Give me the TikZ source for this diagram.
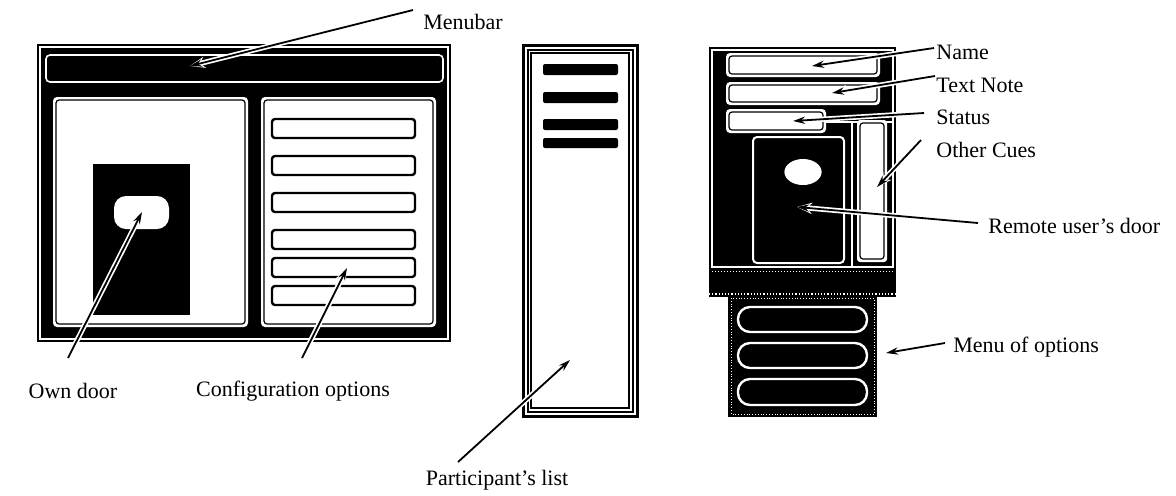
\documentclass[tikz,border=0pt]{standalone}
\usepackage{fontspec}
\setmainfont{Liberation Serif}
\usetikzlibrary{arrows.meta}
\begin{document}
\begin{tikzpicture}[x=0.5pt,y=-0.5pt,
  lbl/.style={font=\fontsize{11}{13}\selectfont, inner sep=0pt},
  wline/.style={draw=white, line width=0.6pt},
  panel/.style={fill=white, rounded corners=2pt},
  inner/.style={draw=black, line width=0.6pt, rounded corners=1.5pt},
  cfg/.style={fill=white, draw=black, line width=1.2pt, rounded corners=1.5pt},
  frameline/.style={draw=black, line width=1pt},
  bar/.style={fill=black, rounded corners=1pt},
  stadium/.style={draw=white, line width=1.2pt, rounded corners=6pt},
  pointer/.style={-{Stealth[length=6pt,width=3.6pt]}, line width=0.9pt, draw=black,
    preaction={draw=white, line width=2.6pt, -{Stealth[length=7.5pt,width=5.6pt]}}}
]
\useasboundingbox (0,0) rectangle (1176,495);

% ---- main window: menubar, own door panel, configuration panel
\fill[black] (37,44) rectangle (451,342);
\draw[wline] (40,47) rectangle (448,339);
\draw[white, line width=0.8pt, fill=black, rounded corners=2pt] (46,55) rectangle (443,82);
\fill[panel] (53,97) rectangle (248,327);
\draw[inner] (56,100) rectangle (245,324);
\fill[panel] (261,97) rectangle (436,327);
\draw[inner] (264,100) rectangle (433,324);
\fill[black] (93,164) rectangle (190,315);
\fill[white, rounded corners=6pt] (114,196) rectangle (169,229);
\foreach \a/\b in {119/138,156/175,193/212,230/249,258/277,286/305}
  \draw[cfg] (272,\a) rectangle (415,\b);

% ---- participant list window
\draw[frameline, line width=1.5pt] (523,45) rectangle (637,416);
\draw[frameline] (527.5,49.5) rectangle (632.5,411.5);
\draw[frameline] (531,53) rectangle (629,408);
\foreach \a/\b in {64/75,92/103,119/130,138/148}
  \fill[bar] (543,\a) rectangle (618,\b);

% ---- remote user window
\fill[black] (709,47) rectangle (896,297);
\draw[wline] (712,50) rectangle (893,267);
\foreach \l/\t/\r/\b in {726/53/880/77, 726/82/880/105, 726/109/826/133}{
  \fill[white, rounded corners=2pt] (\l,\t) rectangle (\r,\b);
  \draw[inner] (\l+3,\t+3) rectangle (\r-3,\b-3);
}
\draw[wline] (826,122) -- (892,122);
\draw[wline] (852,122) -- (852,266);
\fill[white, rounded corners=1.5pt] (857,120) rectangle (887,262);
\draw[inner] (860,123) rectangle (884,259);
\draw[white, line width=1pt, fill=black, rounded corners=2pt] (753,137) rectangle (844,263);
\fill[white] (803,172) ellipse [x radius=9.3pt, y radius=6.5pt];
\draw[white, line width=0.5pt, densely dotted] (712,271) -- (893,271);
\fill[black] (728,293) rectangle (877,417);
\draw[white, line width=0.6pt, densely dotted] (709,294) -- (896,294);
\draw[white, line width=0.4pt, densely dotted] (731,298) rectangle (874,414);
\foreach \a/\b in {307/332,343/368,379/405}
  \draw[stadium] (738,\a) rectangle (867,\b);

% ---- anchor points of the pointers
\coordinate (menuTip) at (190,66);
\coordinate (ownTip) at (142,212);
\coordinate (cfgTip) at (347,268);
\coordinate (partTip) at (570,360);
\coordinate (nameTip) at (812,66);
\coordinate (noteTip) at (832,93);
\coordinate (statusTip) at (793,121);
\coordinate (cuesTip) at (877,187);
\coordinate (doorTip) at (797,207);
\coordinate (optTip) at (886,353);

\coordinate (menuTail) at (413,10);
\coordinate (ownTail) at (68,358);
\coordinate (cfgTail) at (302,358);
\coordinate (partTail) at (458,462);
\coordinate (nameTail) at (934,48);
\coordinate (noteTail) at (935,76);
\coordinate (statusTail) at (924,113);
\coordinate (cuesTail) at (921,140);
\coordinate (doorTail) at (978,223);
\coordinate (optTail) at (945,343);

\draw[pointer] (menuTail) -- (menuTip);
\draw[pointer] (ownTail) -- (ownTip);
\draw[pointer] (cfgTail) -- (cfgTip);
\draw[pointer] (partTail) -- (partTip);
\draw[pointer] (nameTail) -- (nameTip);
\draw[pointer] (noteTail) -- (noteTip);
\draw[pointer] (statusTail) -- (statusTip);
\draw[pointer] (cuesTail) -- (cuesTip);
\draw[pointer] (doorTail) -- (doorTip);
\draw[pointer] (optTail) -- (optTip);

% ---- labels
\node[lbl] (menubar) at (463,22) {Menubar};
\node[lbl] (owndoor) at (73,391) {Own door};
\node[lbl] (config) at (293,391) {Configuration options};
\node[lbl] (plist) at (497,480) {Participant's list};
\node[lbl, anchor=west] (name) at (936,52) {Name};
\node[lbl, anchor=west] (note) at (936,85) {Text Note};
\node[lbl, anchor=west] (status) at (936,117) {Status};
\node[lbl, anchor=west] (cues) at (936,150) {Other Cues};
\node[lbl, anchor=west] (rdoor) at (988,226) {Remote user's door};
\node[lbl, anchor=west] (options) at (953,347) {Menu of options};
\end{tikzpicture}
\end{document}
